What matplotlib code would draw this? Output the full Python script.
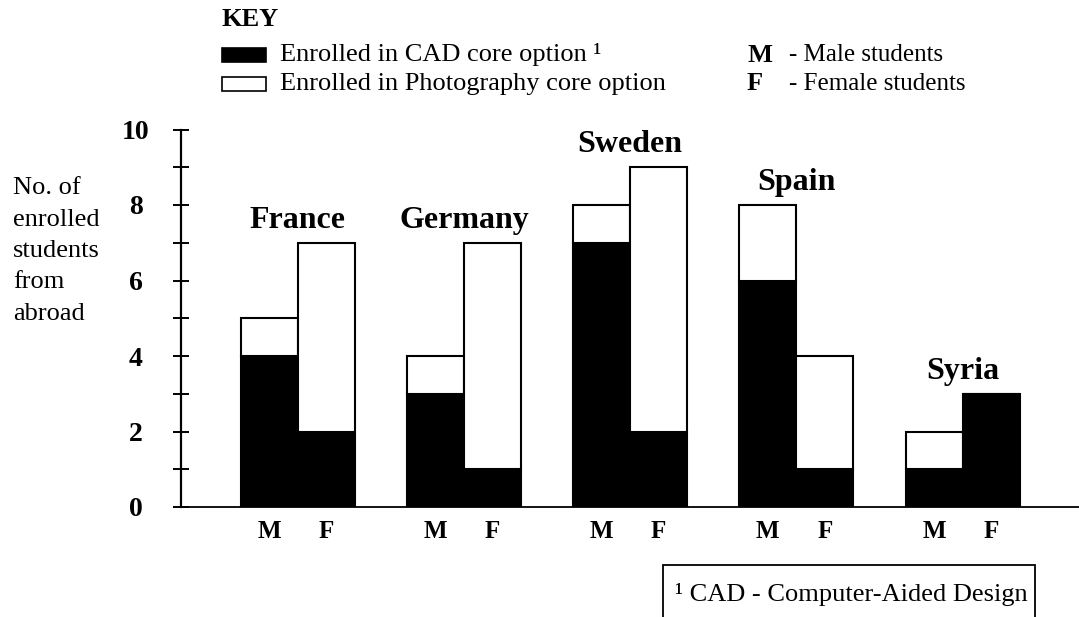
import matplotlib
matplotlib.use("Agg")
import matplotlib.pyplot as plt
from matplotlib.patches import Rectangle
import numpy as np

# ---- data ----
countries = ["France", "Germany", "Sweden", "Spain", "Syria"]
genders = ["M", "F"]
cad_m = [4, 3, 7, 6, 1]
cad_f = [2, 1, 2, 1, 3]
photo_m = [1, 1, 1, 2, 1]
photo_f = [5, 6, 7, 3, 0]
yticks_major = [0, 2, 4, 6, 8, 10]
yticks_minor = [1, 3, 5, 7, 9]
legend_labels = ["Enrolled in CAD core option \u00b9", "Enrolled in Photography core option"]
gender_key = [("M", "- Male students"), ("F", "- Female students")]
ylabel = "No. of\nenrolled\nstudents\nfrom\nabroad"
footnote = "\u00b9 CAD - Computer-Aided Design"

W, H = 1079, 617
SERIF = ["Liberation Serif", "DejaVu Serif"]
plt.rcParams["font.family"] = SERIF

fig = plt.figure(figsize=(W / 100, H / 100), dpi=100)

def fx(px):
    return px / W

def fy(py):
    return 1 - py / H

ax = fig.add_axes([fx(181), fy(507), fx(1079) - fx(181), fy(129.5) - fy(507)])

x = np.arange(len(countries))
bw = 0.343
xm = x - bw / 2
xf = x + bw / 2
lw = 1.5
ax.bar(xm, cad_m, bw, color="black", edgecolor="black", linewidth=lw, zorder=3)
ax.bar(xm, photo_m, bw, bottom=cad_m, color="white", edgecolor="black", linewidth=lw, zorder=3)
ax.bar(xf, cad_f, bw, color="black", edgecolor="black", linewidth=lw, zorder=3)
ax.bar(xf, photo_f, bw, bottom=cad_f, color="white", edgecolor="black", linewidth=lw, zorder=3)

totals = np.maximum(np.add(cad_m, photo_m), np.add(cad_f, photo_f))
for xi, name, t in zip(x, countries, totals):
    ax.text(xi, t + 0.6, name, ha="center", va="center", fontsize=23,
            fontweight="bold", zorder=4)

ax.set_xlim(-0.7016, 4.70)
ax.set_ylim(0, 10)

ax.spines["top"].set_visible(False)
ax.spines["right"].set_visible(False)
ax.spines["left"].set_linewidth(1.6)
ax.spines["bottom"].set_linewidth(1.3)

ax.set_yticks(yticks_major)
ax.set_yticks(yticks_minor, minor=True)
ax.set_yticklabels([str(v) for v in yticks_major])
ax.tick_params(axis="y", which="both", direction="inout", length=12.2, width=1.4)
ax.tick_params(axis="y", which="major", pad=26.3, labelsize=20)
for lab in ax.get_yticklabels():
    lab.set_horizontalalignment("center")
    lab.set_fontweight("bold")

xt = np.concatenate([xm, xf])
xl = [genders[0]] * len(xm) + [genders[1]] * len(xf)
ax.set_xticks(xt)
ax.set_xticklabels(xl)
ax.tick_params(axis="x", length=0, pad=9, labelsize=18)
for lab in ax.get_xticklabels():
    lab.set_fontweight("bold")

# y label
fig.text(fx(13), fy(251), ylabel, ha="left", va="center", fontsize=19,
         linespacing=1.55, multialignment="left")

# key
fig.text(fx(222), fy(20), "KEY", ha="left", va="center", fontsize=19, fontweight="bold")
fig.patches.append(Rectangle((fx(222), fy(62)), fx(44), fy(0) - fy(14),
                             transform=fig.transFigure, facecolor="black",
                             edgecolor="black", linewidth=1.2, figure=fig))
fig.patches.append(Rectangle((fx(222), fy(91)), fx(44), fy(0) - fy(14),
                             transform=fig.transFigure, facecolor="white",
                             edgecolor="black", linewidth=1.2, figure=fig))
for lbl, yy in zip(legend_labels, [55, 84]):
    fig.text(fx(280), fy(yy), lbl, ha="left", va="center", fontsize=19)
for (g, desc), yy in zip(gender_key, [55, 84]):
    fig.text(fx(747), fy(yy), g, ha="left", va="center", fontsize=19, fontweight="bold")
    fig.text(fx(789), fy(yy), desc, ha="left", va="center", fontsize=18)

# footnote box (bottom edge lies beyond the figure)
fig.patches.append(Rectangle((fx(663), fy(640)), fx(1035) - fx(663), fy(565) - fy(640),
                             transform=fig.transFigure, facecolor="none",
                             edgecolor="black", linewidth=1.3, figure=fig))
fig.text(fx(675), fy(595), footnote, ha="left", va="center", fontsize=19)

fig.savefig("out.png", dpi=100, facecolor="white")
